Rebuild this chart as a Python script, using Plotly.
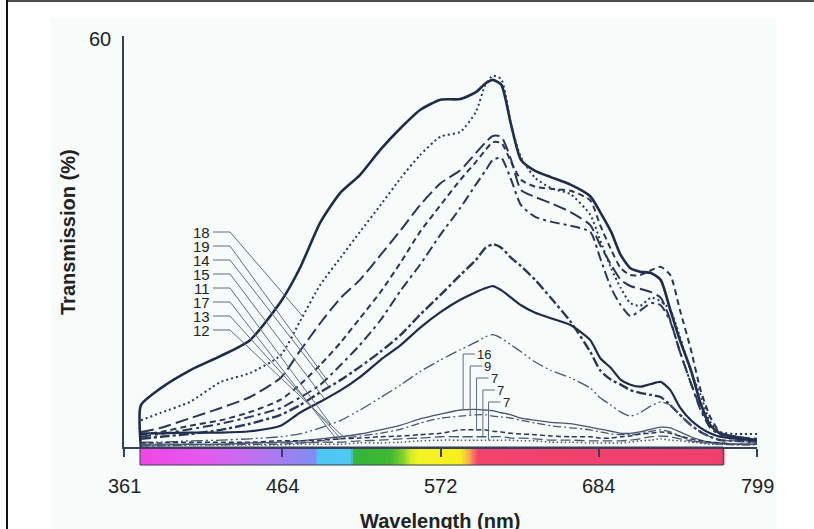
import numpy as np
import plotly.graph_objects as go

# ---------------------------------------------------------------- data
# printed wavelength ticks; the axis spaces them evenly
tick_nm = [361, 464, 572, 684, 799]
tick_text = ["361", "464", "572", "684", "799"]

# sampling wavelengths (nm) shared by every spectrum
wavelength_nm = [372, 385, 404, 424, 443, 463, 476, 490, 504, 517,
                 531, 545, 558, 572, 586, 597, 604, 609, 615, 622,
                 629, 639, 650, 664, 678, 685, 693, 700, 707, 714,
                 722, 729, 736, 743, 751, 758, 765, 772, 783, 799]

# transmission (%) - upper group
solid_heavy = [6.1, 8.6, 11.2, 13.3, 15.6, 21.2, 26.1, 32.8, 37.2, 39.7,
               43.4, 46.6, 49.2, 50.7, 50.8, 51.8, 53.1, 53.6, 52.9, 47.0,
               41.9, 40.3, 39.4, 38.3, 36.6, 34.3, 31.4, 28.0, 26.1, 25.6,
               25.4, 24.4, 20.0, 15.6, 11.2, 6.4, 3.2, 2.0, 1.5, 1.0]
dotted_upper = [3.9, 5.0, 6.6, 9.5, 10.8, 13.4, 18.3, 23.7, 27.7, 31.4,
                35.3, 39.3, 42.6, 45.3, 46.0, 48.9, 53.0, 54.2, 53.7, 47.0,
                42.3, 39.3, 37.8, 36.9, 33.9, 30.2, 26.1, 23.2, 21.0, 20.6,
                21.8, 21.3, 20.0, 16.1, 11.0, 7.6, 3.7, 2.2, 1.9, 1.9]
longdash_upper = [2.2, 2.8, 4.2, 5.7, 7.3, 10.1, 14.0, 18.1, 21.8, 24.4,
                  28.0, 31.7, 35.3, 38.5, 40.4, 42.9, 44.5, 45.4, 45.3, 41.9,
                  37.5, 36.5, 35.6, 34.3, 32.4, 29.5, 26.6, 24.4, 23.5, 23.1,
                  22.6, 21.8, 18.5, 13.9, 9.3, 5.7, 3.2, 2.0, 1.5, 1.0]
shortdash_upper = [1.8, 2.2, 3.1, 3.9, 5.1, 6.9, 9.1, 12.0, 15.3, 18.8,
                   22.6, 27.0, 31.4, 35.3, 39.0, 41.6, 43.4, 44.5, 44.4, 41.6,
                   39.0, 38.0, 37.7, 37.4, 36.0, 32.4, 28.8, 26.1, 25.1, 25.1,
                   25.8, 26.3, 25.1, 20.0, 14.2, 8.3, 4.4, 2.2, 1.3, 0.7]
dashdot_upper = [1.5, 1.9, 2.6, 3.4, 4.4, 5.7, 7.2, 9.1, 12.0, 14.9,
                 18.5, 22.9, 26.6, 31.0, 34.9, 38.3, 40.4, 41.9, 42.2, 39.0,
                 35.3, 33.6, 32.9, 32.3, 31.4, 27.6, 23.2, 20.7, 19.1, 19.9,
                 21.0, 20.7, 18.3, 13.9, 9.3, 5.4, 2.8, 1.8, 1.5, 1.2]

# transmission (%) - middle group
dashdot_mid = [1.2, 1.5, 1.9, 2.5, 3.4, 4.7, 6.1, 8.0, 9.8, 11.7,
               13.9, 16.4, 19.3, 22.2, 25.1, 27.3, 29.1, 29.6, 29.1, 27.6,
               26.4, 24.4, 21.8, 18.3, 13.9, 11.2, 9.8, 9.1, 8.3, 7.9,
               7.6, 7.3, 6.1, 4.7, 3.2, 2.2, 1.5, 1.0, 0.9, 0.7]
solid_mid = [2.0, 2.0, 2.1, 2.1, 2.3, 3.1, 5.0, 6.6, 8.3, 10.2,
             12.7, 14.9, 17.4, 19.7, 21.5, 22.6, 23.2, 23.5, 22.9, 21.8,
             20.7, 19.6, 18.8, 17.8, 15.6, 13.0, 11.5, 9.8, 9.1, 8.8,
             9.2, 9.5, 8.3, 5.8, 3.9, 2.8, 2.0, 1.5, 1.2, 0.9]
dashdotdot_mid = [0.7, 0.7, 0.9, 1.0, 1.2, 1.5, 1.9, 2.8, 3.9, 5.4,
                  7.2, 9.1, 11.0, 12.7, 14.2, 15.3, 16.1, 16.4, 15.9, 14.9,
                  13.9, 12.4, 11.2, 10.1, 8.6, 7.2, 6.1, 5.1, 4.5, 5.0,
                  6.0, 6.6, 6.1, 4.7, 3.2, 2.2, 1.5, 1.0, 0.9, 0.7]

# transmission (%) - low group
solid_low = [0.3, 0.3, 0.4, 0.4, 0.6, 0.7, 0.9, 1.2, 1.5, 1.9,
             2.5, 3.2, 4.1, 4.8, 5.4, 5.5, 5.4, 5.3, 5.0, 4.7,
             4.2, 3.9, 3.6, 3.4, 2.9, 2.6, 2.3, 2.0, 2.0, 2.2,
             2.6, 2.9, 2.8, 2.2, 1.5, 1.0, 0.7, 0.6, 0.4, 0.4]
dashdot_low = [0.15, 0.15, 0.3, 0.3, 0.4, 0.4, 0.6, 0.9, 1.2, 1.6,
               2.0, 2.6, 3.5, 4.2, 4.5, 4.7, 4.7, 4.5, 4.4, 4.2,
               3.9, 3.5, 3.1, 2.8, 2.5, 2.2, 1.9, 1.8, 1.8, 1.9,
               2.3, 2.5, 2.2, 1.6, 1.0, 0.7, 0.6, 0.4, 0.3, 0.3]
dash_low = [0.6, 0.6, 0.7, 0.7, 0.7, 0.9, 0.9, 1.0, 1.2, 1.3,
            1.5, 1.6, 1.8, 2.0, 2.5, 2.5, 2.5, 2.3, 2.2, 2.0,
            1.9, 1.8, 1.6, 1.5, 1.5, 1.3, 1.3, 1.5, 1.6, 1.9,
            2.0, 2.2, 2.0, 1.6, 1.2, 0.9, 0.7, 0.6, 0.4, 0.4]
longdash_low = [0.4, 0.4, 0.4, 0.4, 0.6, 0.6, 0.6, 0.7, 0.7, 0.9,
                1.0, 1.2, 1.3, 1.5, 1.5, 1.5, 1.5, 1.5, 1.5, 1.3,
                1.3, 1.2, 1.0, 1.0, 0.9, 0.9, 0.9, 0.9, 1.0, 1.2,
                1.5, 1.6, 1.5, 1.2, 0.9, 0.6, 0.6, 0.4, 0.4, 0.4]
dot_low = [0.3, 0.3, 0.3, 0.3, 0.3, 0.3, 0.4, 0.4, 0.4, 0.6,
           0.6, 0.7, 0.9, 1.0, 1.0, 1.0, 1.0, 1.0, 1.0, 1.0,
           0.9, 0.9, 0.7, 0.7, 0.6, 0.6, 0.6, 0.6, 0.7, 0.9,
           1.0, 1.2, 1.0, 0.9, 0.7, 0.6, 0.4, 0.4, 0.4, 0.4]

# curve labels with the spectrum each leader points to and where (nm)
left_labels = ["18", "19", "14", "15", "11", "17", "13", "12"]
left_targets = ["dotted_upper", "dashdot_upper", "dashdot_mid", "solid_mid",
                "dashdotdot_mid", "solid_low", "dashdot_low", "dash_low"]
left_target_nm = [478, 494, 496, 493, 497, 500, 504, 507]

low_labels = ["16", "9", "7", "7", "7"]
low_targets = ["solid_low", "dashdot_low", "dash_low", "longdash_low", "dot_low"]
low_target_nm = [588, 593, 597.5, 602, 606]

# visible spectrum strip under the axis
strip_nm = [371.4, 410.6, 443.1, 469.5, 486.6, 488.6, 510.5, 513.3,
            537.8, 546.0, 551.5, 557.0, 586.2, 591.9, 598.3, 774.4]
strip_colors = ["#f046e6", "#e558ee", "#c070f0", "#9a82f0", "#7c8ef0",
                "#4cc8f4", "#50c8f2", "#36b43c", "#40b832", "#7ccf30",
                "#d2ec22", "#f4f424", "#f8ee22", "#f8b04c", "#f2446e", "#f0406c"]

# ---------------------------------------------------------------- geometry
W, H = 814, 529
L, R, T, B = 124, 757, 36, 447        # plot box in pixels
Y_MAX = 60
tick_pos = list(range(len(tick_nm)))


def pos(nm):
    """wavelength -> position on the evenly spaced axis"""
    return np.interp(nm, tick_nm, tick_pos)


def xdata(px):
    return tick_pos[-1] * (px - L) / (R - L)


def ydata(py):
    return Y_MAX * (B - py) / (B - T)


def px_paper(px):
    return (px - L) / (R - L)


def py_paper(py):
    return (B - py) / (B - T)


x_pos = pos(np.array(wavelength_nm, dtype=float))

NAVY = "#1f2b4a"
NAVY2 = "#2a3656"
GREY = "#4a5670"

spectra = {
    "solid_heavy": (solid_heavy, dict(color=NAVY, width=2.6)),
    "dotted_upper": (dotted_upper, dict(color=NAVY2, width=2.0, dash="2px,3px")),
    "longdash_upper": (longdash_upper, dict(color=NAVY2, width=2.0, dash="13px,5px")),
    "shortdash_upper": (shortdash_upper, dict(color=NAVY2, width=2.0, dash="6px,4px")),
    "dashdot_upper": (dashdot_upper, dict(color=NAVY2, width=2.0, dash="10px,4px,3px,4px")),
    "dashdot_mid": (dashdot_mid, dict(color=NAVY2, width=2.4, dash="10px,3px,3px,3px")),
    "solid_mid": (solid_mid, dict(color=NAVY, width=2.2)),
    "dashdotdot_mid": (dashdotdot_mid, dict(color=GREY, width=1.3, dash="12px,3px,2px,3px,2px,3px")),
    "solid_low": (solid_low, dict(color=GREY, width=1.3)),
    "dashdot_low": (dashdot_low, dict(color=GREY, width=1.3, dash="8px,3px,2px,3px")),
    "dash_low": (dash_low, dict(color=NAVY2, width=1.5, dash="5px,3px")),
    "longdash_low": (longdash_low, dict(color=GREY, width=1.3, dash="10px,4px")),
    "dot_low": (dot_low, dict(color=GREY, width=1.5, dash="1.5px,2.5px")),
}

fig = go.Figure()
for name, (vals, style) in spectra.items():
    xs, ys = x_pos, np.array(vals, dtype=float)
    if name == "solid_heavy":
        # this trace rises straight off the baseline at its first sample
        xs = np.concatenate([[x_pos[0]], x_pos])
        ys = np.concatenate([[0.0], ys])
    fig.add_trace(go.Scatter(
        x=xs, y=ys, mode="lines", name=name, hoverinfo="skip",
        line=dict(shape="spline", smoothing=0.6, **style),
    ))

shapes = []
annotations = []

# faint panel tint and outer frame
shapes.append(dict(type="rect", xref="paper", yref="paper", layer="below",
                   x0=px_paper(50), x1=px_paper(776), y0=py_paper(529), y1=py_paper(18),
                   fillcolor="#f7fbfa", line=dict(width=0)))
shapes.append(dict(type="line", xref="paper", yref="paper",
                   x0=px_paper(7), x1=px_paper(7), y0=py_paper(0), y1=py_paper(H),
                   line=dict(color="#111111", width=2)))
shapes.append(dict(type="line", xref="paper", yref="paper",
                   x0=px_paper(6), x1=px_paper(W), y0=py_paper(1), y1=py_paper(1),
                   line=dict(color="#111111", width=1.5)))

# spectrum strip
rgb = np.array([[int(c[i:i + 2], 16) for i in (1, 3, 5)] for c in strip_colors], dtype=float)
p0, p1 = pos(strip_nm[0]), pos(strip_nm[-1])
n_slices = 260
edges = np.linspace(p0, p1, n_slices + 1)
strip_top, strip_bot = py_paper(B), py_paper(465)
for i in range(n_slices):
    mid_nm = np.interp(0.5 * (edges[i] + edges[i + 1]), tick_pos, tick_nm)
    r, g, b = (np.interp(mid_nm, strip_nm, rgb[:, k]) for k in range(3))
    shapes.append(dict(type="rect", xref="x", yref="paper", layer="below",
                       x0=edges[i], x1=edges[i + 1] + (p1 - p0) / n_slices * 0.6,
                       y0=strip_bot, y1=strip_top,
                       fillcolor=f"rgb({r:.0f},{g:.0f},{b:.0f})", line=dict(width=0)))
shapes.append(dict(type="rect", xref="x", yref="paper", layer="below",
                   x0=p0, x1=p1, y0=strip_bot, y1=strip_top,
                   line=dict(color="#3b3f55", width=1)))

# left label column with slanted leaders
for i, (lab, tgt, tnm) in enumerate(zip(left_labels, left_targets, left_target_nm)):
    ly = 232 + 14 * i
    ty = float(np.interp(tnm, wavelength_nm, spectra[tgt][0]))
    shapes.append(dict(type="path", xref="x", yref="y",
                       path=f"M {xdata(213)},{ydata(ly)} L {xdata(230)},{ydata(ly)} "
                            f"L {pos(tnm)},{ty}",
                       line=dict(color="#5d6b84", width=1)))
    annotations.append(dict(x=xdata(211), y=ydata(ly), xref="x", yref="y",
                            text=lab, showarrow=False, xanchor="right", yanchor="middle",
                            borderpad=0, font=dict(size=15, color="#222222")))

# low-group labels with square leaders
for i, (lab, tgt, tnm) in enumerate(zip(low_labels, low_targets, low_target_nm)):
    ly = 354 + 12 * i
    vx = float(pos(tnm))
    ty = float(np.interp(tnm, wavelength_nm, spectra[tgt][0]))
    stub = xdata(12) - xdata(0)
    shapes.append(dict(type="path", xref="x", yref="y",
                       path=f"M {vx},{ty} L {vx},{ydata(ly)} L {vx + stub},{ydata(ly)}",
                       line=dict(color="#5d6b84", width=1)))
    annotations.append(dict(x=vx + stub + (xdata(1) - xdata(0)), y=ydata(ly),
                            xref="x", yref="y", text=lab, showarrow=False,
                            xanchor="left", yanchor="middle", borderpad=0,
                            font=dict(size=13, color="#222222")))

# axis numbers and titles
for tp, tt in zip(tick_pos, tick_text):
    annotations.append(dict(x=tp, y=py_paper(486), xref="x", yref="paper", text=tt,
                            showarrow=False, xanchor="center", yanchor="middle",
                            font=dict(size=20, color="#222222")))
annotations.append(dict(x=0, y=Y_MAX, xref="paper", yref="y", text="60",
                        showarrow=False, xanchor="right", yanchor="middle",
                        xshift=-11, yshift=-3, font=dict(size=20, color="#222222")))
annotations.append(dict(x=px_paper(68), y=py_paper(232), xref="paper", yref="paper",
                        text="<b>Transmission (%)</b>", textangle=-90, showarrow=False,
                        xanchor="center", yanchor="middle",
                        font=dict(size=20, color="#222222")))
annotations.append(dict(x=px_paper(440), y=py_paper(508), xref="paper", yref="paper",
                        text="<b>Wavelength (nm)</b>", showarrow=False,
                        xanchor="center", yanchor="top",
                        font=dict(size=20, color="#222222")))

fig.update_layout(
    width=W, height=H, autosize=False,
    margin=dict(l=L, r=W - R, t=T, b=H - B, pad=0),
    paper_bgcolor="white", plot_bgcolor="rgba(0,0,0,0)",
    showlegend=False,
    font=dict(family="Liberation Sans, Arial, sans-serif"),
    shapes=shapes, annotations=annotations,
    xaxis=dict(range=[tick_pos[0], tick_pos[-1]], showgrid=False, zeroline=False,
               showline=True, linecolor="#34405c", linewidth=1.5,
               tickmode="array", tickvals=tick_pos, ticks="outside", ticklen=8,
               tickwidth=1.5, tickcolor="#34405c", showticklabels=False),
    yaxis=dict(range=[0, Y_MAX], showgrid=False, zeroline=False,
               showline=True, linecolor="#34405c", linewidth=1.5,
               ticks="", showticklabels=False),
)

fig.write_html("out.html")
